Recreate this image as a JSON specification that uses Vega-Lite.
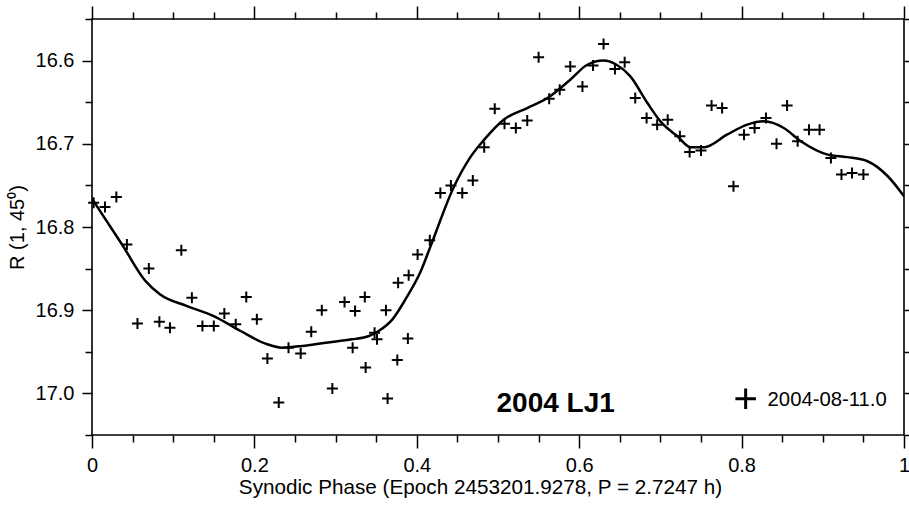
{
  "$schema": "https://vega.github.io/schema/vega-lite/v6.json",
  "width": 812,
  "height": 416,
  "autosize": {"type": "none"},
  "padding": {"left": 92, "top": 19, "right": 5, "bottom": 71},
  "background": "white",
  "config": {
    "view": {"stroke": "black", "strokeWidth": 1.6},
    "font": "Liberation Sans",
    "axis": {"domain": false, "grid": false, "labelFlush": false, "labelOverlap": false, "tickColor": "black", "tickWidth": 1.5, "labelColor": "black", "titleColor": "black", "labelFont": "Liberation Sans", "titleFont": "Liberation Sans", "labelFontSize": 20, "titleFontSize": 20, "titleFontWeight": "normal"}
  },
  "datasets": {
    "obs": [
      {"phase": 0.002, "mag": 16.771}, {"phase": 0.016, "mag": 16.776}, {"phase": 0.030, "mag": 16.764}, {"phase": 0.043, "mag": 16.821},
      {"phase": 0.056, "mag": 16.916}, {"phase": 0.070, "mag": 16.850}, {"phase": 0.083, "mag": 16.914}, {"phase": 0.096, "mag": 16.921},
      {"phase": 0.110, "mag": 16.828}, {"phase": 0.123, "mag": 16.885}, {"phase": 0.136, "mag": 16.919}, {"phase": 0.150, "mag": 16.919},
      {"phase": 0.163, "mag": 16.904}, {"phase": 0.177, "mag": 16.917}, {"phase": 0.190, "mag": 16.884}, {"phase": 0.203, "mag": 16.911},
      {"phase": 0.216, "mag": 16.958}, {"phase": 0.230, "mag": 17.011}, {"phase": 0.242, "mag": 16.945}, {"phase": 0.257, "mag": 16.952},
      {"phase": 0.270, "mag": 16.926}, {"phase": 0.283, "mag": 16.900}, {"phase": 0.296, "mag": 16.994}, {"phase": 0.311, "mag": 16.890},
      {"phase": 0.321, "mag": 16.945}, {"phase": 0.324, "mag": 16.901}, {"phase": 0.336, "mag": 16.884}, {"phase": 0.337, "mag": 16.969},
      {"phase": 0.348, "mag": 16.927}, {"phase": 0.351, "mag": 16.935}, {"phase": 0.362, "mag": 16.900}, {"phase": 0.364, "mag": 17.006},
      {"phase": 0.376, "mag": 16.960}, {"phase": 0.377, "mag": 16.867}, {"phase": 0.389, "mag": 16.934}, {"phase": 0.390, "mag": 16.858},
      {"phase": 0.401, "mag": 16.833}, {"phase": 0.416, "mag": 16.816}, {"phase": 0.429, "mag": 16.759}, {"phase": 0.442, "mag": 16.750},
      {"phase": 0.456, "mag": 16.759}, {"phase": 0.469, "mag": 16.744}, {"phase": 0.483, "mag": 16.704}, {"phase": 0.496, "mag": 16.658},
      {"phase": 0.508, "mag": 16.676}, {"phase": 0.522, "mag": 16.681}, {"phase": 0.536, "mag": 16.672}, {"phase": 0.550, "mag": 16.596},
      {"phase": 0.563, "mag": 16.646}, {"phase": 0.576, "mag": 16.635}, {"phase": 0.589, "mag": 16.607}, {"phase": 0.604, "mag": 16.631},
      {"phase": 0.617, "mag": 16.606}, {"phase": 0.630, "mag": 16.580}, {"phase": 0.644, "mag": 16.610}, {"phase": 0.656, "mag": 16.602},
      {"phase": 0.669, "mag": 16.645}, {"phase": 0.683, "mag": 16.669}, {"phase": 0.696, "mag": 16.677}, {"phase": 0.709, "mag": 16.671},
      {"phase": 0.724, "mag": 16.691}, {"phase": 0.736, "mag": 16.710}, {"phase": 0.750, "mag": 16.708}, {"phase": 0.763, "mag": 16.654},
      {"phase": 0.776, "mag": 16.657}, {"phase": 0.790, "mag": 16.751}, {"phase": 0.803, "mag": 16.689}, {"phase": 0.816, "mag": 16.681},
      {"phase": 0.830, "mag": 16.669}, {"phase": 0.843, "mag": 16.700}, {"phase": 0.856, "mag": 16.654}, {"phase": 0.869, "mag": 16.697},
      {"phase": 0.883, "mag": 16.683}, {"phase": 0.896, "mag": 16.683}, {"phase": 0.910, "mag": 16.717}, {"phase": 0.923, "mag": 16.737},
      {"phase": 0.936, "mag": 16.735}, {"phase": 0.950, "mag": 16.737}
    ],
    "fit": [
      {"phase": 0.000, "mag": 16.766}, {"phase": 0.037, "mag": 16.821}, {"phase": 0.066, "mag": 16.865}, {"phase": 0.084, "mag": 16.881},
      {"phase": 0.117, "mag": 16.895}, {"phase": 0.150, "mag": 16.907}, {"phase": 0.183, "mag": 16.925}, {"phase": 0.216, "mag": 16.941},
      {"phase": 0.234, "mag": 16.945}, {"phase": 0.259, "mag": 16.943}, {"phase": 0.288, "mag": 16.939}, {"phase": 0.320, "mag": 16.935},
      {"phase": 0.341, "mag": 16.931}, {"phase": 0.353, "mag": 16.925}, {"phase": 0.370, "mag": 16.911}, {"phase": 0.386, "mag": 16.887},
      {"phase": 0.405, "mag": 16.853}, {"phase": 0.417, "mag": 16.823}, {"phase": 0.446, "mag": 16.751}, {"phase": 0.466, "mag": 16.716},
      {"phase": 0.483, "mag": 16.695}, {"phase": 0.507, "mag": 16.671}, {"phase": 0.536, "mag": 16.657}, {"phase": 0.561, "mag": 16.645},
      {"phase": 0.589, "mag": 16.623}, {"phase": 0.610, "mag": 16.605}, {"phase": 0.630, "mag": 16.600}, {"phase": 0.646, "mag": 16.605},
      {"phase": 0.663, "mag": 16.619}, {"phase": 0.684, "mag": 16.651}, {"phase": 0.700, "mag": 16.673}, {"phase": 0.721, "mag": 16.691},
      {"phase": 0.737, "mag": 16.704}, {"phase": 0.754, "mag": 16.704}, {"phase": 0.782, "mag": 16.689}, {"phase": 0.807, "mag": 16.677},
      {"phase": 0.827, "mag": 16.673}, {"phase": 0.852, "mag": 16.681}, {"phase": 0.873, "mag": 16.697}, {"phase": 0.906, "mag": 16.713},
      {"phase": 0.930, "mag": 16.716}, {"phase": 0.955, "mag": 16.721}, {"phase": 0.980, "mag": 16.739}, {"phase": 1.000, "mag": 16.763}
    ],
    "label": [{"phase": 0.571, "mag": 17.0226, "text": "2004 LJ1"}],
    "legendText": [{"phase": 0.832, "mag": 17.015, "text": "2004-08-11.0"}],
    "legendMark": [{"phase": 0.805, "mag": 17.0064}]
  },
  "layer": [
    {
      "data": {"name": "fit"},
      "mark": {"type": "line", "interpolate": "monotone", "color": "black", "strokeWidth": 2.5, "clip": true},
      "encoding": {
        "x": {"field": "phase", "type": "quantitative", "scale": {"domain": [0, 1], "nice": false, "zero": false},
          "axis": {"orient": "bottom", "values": [0, 0.2, 0.4, 0.6, 0.8, 1], "format": "~g", "tickSize": 13, "labelPadding": 7, "title": "Synodic Phase (Epoch 2453201.9278, P = 2.7247 h)", "titleFontSize": 20.7, "titlePadding": 2, "titleX": 388, "titleAnchor": "middle"}},
        "y": {"field": "mag", "type": "quantitative", "scale": {"domain": [16.55, 17.05], "reverse": true, "nice": false, "zero": false},
          "axis": {"orient": "left", "values": [16.6, 16.7, 16.8, 16.9, 17.0], "format": ".1f", "tickSize": 10, "labelPadding": 8, "title": "R (1, 45⁰)", "titlePadding": 8}}
      }
    },
    {
      "data": {"name": "obs"},
      "mark": {"type": "point", "shape": "M-1,0L1,0M0,-1L0,1", "size": 121, "filled": false, "stroke": "black", "strokeWidth": 2, "opacity": 1},
      "encoding": {
        "x": {"field": "phase", "type": "quantitative", "scale": {"domain": [0, 1], "nice": false, "zero": false},
          "axis": {"orient": "bottom", "values": [0.05, 0.1, 0.15, 0.25, 0.3, 0.35, 0.45, 0.5, 0.55, 0.65, 0.7, 0.75, 0.85, 0.9, 0.95], "tickSize": 7, "labels": false, "title": null}},
        "y": {"field": "mag", "type": "quantitative", "scale": {"domain": [16.55, 17.05], "reverse": true, "nice": false, "zero": false},
          "axis": {"orient": "left", "values": [16.55, 16.65, 16.75, 16.85, 16.95, 17.05], "tickSize": 7, "labels": false, "title": null}}
      }
    },
    {
      "data": {"name": "label"},
      "mark": {"type": "text", "font": "Liberation Sans", "fontWeight": "bold", "fontSize": 28, "align": "center", "baseline": "alphabetic", "color": "black"},
      "encoding": {
        "x": {"field": "phase", "type": "quantitative", "scale": {"domain": [0, 1], "nice": false, "zero": false},
          "axis": {"orient": "top", "values": [0, 0.2, 0.4, 0.6, 0.8, 1], "tickSize": 13, "labels": false, "title": null}},
        "y": {"field": "mag", "type": "quantitative", "scale": {"domain": [16.55, 17.05], "reverse": true, "nice": false, "zero": false},
          "axis": {"orient": "right", "values": [16.55, 16.6, 16.65, 16.7, 16.75, 16.8, 16.85, 16.9, 16.95, 17.0, 17.05], "tickSize": 6, "labels": false, "title": null}},
        "text": {"field": "text"}
      }
    },
    {
      "data": {"name": "legendText"},
      "mark": {"type": "text", "font": "Liberation Sans", "fontSize": 20.3, "align": "left", "baseline": "alphabetic", "color": "black"},
      "encoding": {
        "x": {"field": "phase", "type": "quantitative", "scale": {"domain": [0, 1], "nice": false, "zero": false},
          "axis": {"orient": "top", "values": [0.05, 0.1, 0.15, 0.25, 0.3, 0.35, 0.45, 0.5, 0.55, 0.65, 0.7, 0.75, 0.85, 0.9, 0.95], "tickSize": 7, "labels": false, "title": null}},
        "y": {"field": "mag", "type": "quantitative", "scale": {"domain": [16.55, 17.05], "reverse": true, "nice": false, "zero": false}, "axis": null},
        "text": {"field": "text"}
      }
    },
    {
      "data": {"name": "legendMark"},
      "mark": {"type": "point", "shape": "M-1,0L1,0M0,-1L0,1", "size": 420, "filled": false, "stroke": "black", "strokeWidth": 3, "opacity": 1},
      "encoding": {
        "x": {"field": "phase", "type": "quantitative", "scale": {"domain": [0, 1], "nice": false, "zero": false}, "axis": null},
        "y": {"field": "mag", "type": "quantitative", "scale": {"domain": [16.55, 17.05], "reverse": true, "nice": false, "zero": false}, "axis": null}
      }
    }
  ],
  "resolve": {"axis": {"x": "independent", "y": "independent"}}
}
